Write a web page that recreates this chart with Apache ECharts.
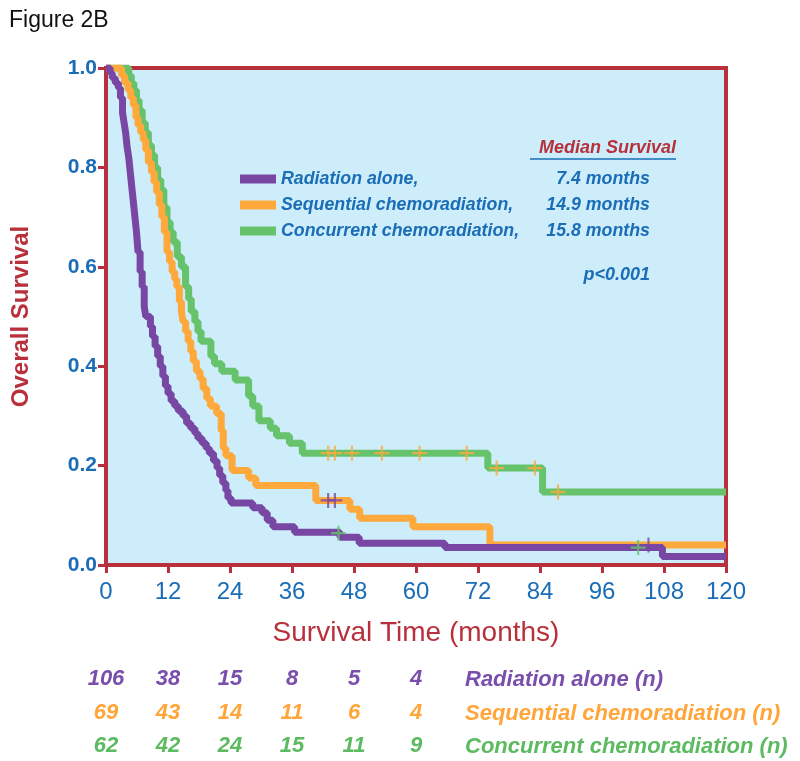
<!DOCTYPE html>
<html><head><meta charset="utf-8">
<script src="https://cdn.jsdelivr.net/npm/echarts@6/dist/echarts.min.js"></script>
<style>html,body{margin:0;padding:0;background:#fff}#c{width:800px;height:761px}</style>
</head><body><div id="c"></div>
<script>
// ---- data ----
const seriesNames = ['Radiation alone', 'Sequential chemoradiation', 'Concurrent chemoradiation'];
const medianLabels = ['7.4 months', '14.9 months', '15.8 months'];
const radiationAlone = [[0,1],[0.8,0.99],[1.2,0.98],[1.8,0.97],[2.4,0.96],[2.8,0.94],[3.2,0.91],[3.5,0.89],[3.8,0.87],[4.1,0.84],[4.4,0.82],[4.7,0.79],[5.0,0.76],[5.3,0.73],[5.6,0.70],[5.9,0.67],[6.2,0.63],[6.6,0.59],[7.0,0.56],[7.4,0.52],[7.7,0.50],[8.6,0.48],[9.0,0.46],[9.5,0.44],[10.0,0.42],[10.5,0.40],[11.0,0.38],[11.5,0.36],[12.0,0.345],[12.6,0.33],[13.3,0.32],[14.0,0.31],[14.9,0.30],[15.6,0.285],[16.4,0.275],[17.2,0.265],[17.8,0.255],[18.6,0.245],[19.4,0.235],[20.0,0.225],[20.8,0.21],[21.5,0.195],[22.0,0.18],[22.6,0.165],[23.2,0.15],[23.6,0.135],[24.2,0.125],[28.4,0.115],[30.2,0.105],[31.2,0.09],[32.3,0.077],[36.5,0.066],[45.3,0.056],[49,0.044],[65.6,0.035],[107.7,0.017],[120,0.017]];
const sequentialChemo = [[0,1],[3.0,0.985],[3.6,0.97],[4.3,0.955],[4.8,0.94],[5.3,0.925],[5.8,0.90],[6.2,0.885],[6.7,0.87],[7.2,0.855],[7.7,0.835],[8.2,0.81],[8.8,0.79],[9.3,0.77],[9.8,0.75],[10.3,0.725],[10.8,0.70],[11.3,0.67],[11.8,0.63],[12.3,0.61],[12.8,0.59],[13.3,0.575],[13.7,0.56],[14.2,0.53],[14.6,0.51],[14.9,0.49],[15.4,0.47],[15.9,0.45],[16.4,0.43],[16.9,0.41],[17.5,0.39],[18.2,0.375],[18.8,0.355],[19.5,0.335],[20.2,0.32],[21.4,0.305],[22.3,0.27],[22.7,0.235],[23.2,0.22],[24.4,0.19],[27.6,0.175],[29.0,0.16],[40.6,0.13],[47.2,0.112],[49.1,0.094],[59.4,0.077],[74.3,0.04],[120,0.04]];
const concurrentChemo = [[0,1],[4.4,0.985],[4.9,0.97],[5.4,0.955],[5.9,0.935],[6.4,0.915],[7.0,0.89],[7.6,0.87],[8.2,0.845],[8.8,0.825],[9.4,0.80],[10.0,0.775],[10.6,0.755],[11.2,0.72],[11.8,0.69],[12.4,0.67],[13.0,0.65],[13.8,0.62],[14.6,0.60],[15.4,0.56],[16.0,0.535],[16.5,0.51],[17.2,0.49],[17.8,0.47],[18.4,0.45],[20.3,0.42],[21.0,0.405],[22.4,0.39],[25.0,0.372],[27.6,0.34],[28.4,0.32],[29.6,0.29],[31.8,0.275],[33.0,0.26],[35.5,0.245],[38.0,0.225],[73.9,0.195],[84.5,0.147],[120,0.147]];
// censor marks (as drawn, coloured crosses)
const orangeCrosses = [[43,0.225],[44.3,0.225],[47.6,0.225],[53.4,0.225],[60.7,0.225],[69.8,0.225],[75.6,0.195],[83,0.195],[87.5,0.147]];
const purpleCrosses = [[43,0.13],[44.3,0.13],[105,0.04]];
const greenCrosses = [[45,0.064],[103,0.035]];
// numbers at risk at 0,12,24,36,48,60 months
const riskTimes = [0,12,24,36,48,60];
const riskRadiation = [106,38,15,8,5,4];
const riskSequential = [69,43,14,11,6,4];
const riskConcurrent = [62,42,24,15,11,9];
const riskLabels = ['Radiation alone (n)', 'Sequential chemoradiation (n)', 'Concurrent chemoradiation (n)'];
const xTicks = [0,12,24,36,48,60,72,84,96,108,120];
const yTicks = [0,0.2,0.4,0.6,0.8,1.0];

// ---- style ----
const C = {purple:'#7846a3', orange:'#ffa93d', green:'#66c36b', bg:'#ccedf9', red:'#b8303c', blue:'#1a6db6',
  rPurple:'#7a4fac', rOrange:'#ffa53a', rGreen:'#5cba60'};
const SANS = '"Liberation Sans",Arial,sans-serif';
const cross = 'path://M-1,-7L1,-7L1,-1L7,-1L7,1L1,1L1,7L-1,7L-1,1L-7,1L-7,-1L-1,-1Z';

const chart = echarts.init(document.getElementById('c'), null, {renderer:'canvas'});
const G = {left:106, top:68, width:620, height:497};

function riskAxis(vals, color, offset){
  const map = {}; riskTimes.forEach((t,i)=>map[t]=vals[i]);
  return {type:'value', gridIndex:0, position:'bottom', offset:offset, min:0, max:120, interval:12,
    axisLine:{show:false}, axisTick:{show:false}, splitLine:{show:false},
    axisLabel:{margin:0, color:color, fontFamily:SANS, fontStyle:'italic', fontWeight:'bold', fontSize:22,
      showMinLabel:true, showMaxLabel:true,
      formatter:v=> (map[v]!==undefined? String(map[v]) : '')}};
}

const option = {
  animation:false,
  backgroundColor:'#ffffff',
  grid:{...G, show:true, backgroundColor:C.bg, borderColor:C.red, borderWidth:4},
  xAxis:[{type:'value', min:0, max:120, interval:12,
      name:'Survival Time (months)', nameLocation:'middle', nameGap:54,
      nameTextStyle:{color:C.red, fontFamily:SANS, fontSize:28, fontWeight:'normal'},
      axisLine:{show:true, lineStyle:{color:C.red, width:4}},
      axisTick:{show:true, length:8, lineStyle:{color:C.red, width:3}},
      axisLabel:{margin:15, color:C.blue, fontFamily:SANS, fontSize:24, showMinLabel:true, showMaxLabel:true},
      splitLine:{show:false}},
    riskAxis(riskRadiation, C.rPurple, 103),
    riskAxis(riskSequential, C.rOrange, 137),
    riskAxis(riskConcurrent, C.rGreen, 170)
  ],
  yAxis:{type:'value', min:0, max:1, interval:0.2,
    name:'Overall Survival', nameLocation:'middle', nameGap:73, nameRotate:90,
    nameTextStyle:{color:C.red, fontFamily:SANS, fontSize:24, fontWeight:'bold'},
    axisLine:{show:true, lineStyle:{color:C.red, width:4}},
    axisTick:{show:true, length:8, lineStyle:{color:C.red, width:3}},
    axisLabel:{margin:9, color:C.blue, fontFamily:SANS, fontWeight:'bold', fontSize:21, formatter:v=>v.toFixed(1)},
    splitLine:{show:false}},
  legend:{show:true, left:235, top:165, orient:'vertical', itemGap:8, itemWidth:36, itemHeight:9, icon:'rect',
    selectedMode:false, data:seriesNames,
    formatter:name=>{const i=seriesNames.indexOf(name); return '{a|'+name+',}{b|'+medianLabels[i]+'}';},
    textStyle:{rich:{
      a:{width:252, height:18, color:C.blue, fontFamily:SANS, fontStyle:'italic', fontWeight:'bold', fontSize:17.8},
      b:{width:117, height:18, align:'right', color:C.blue, fontFamily:SANS, fontStyle:'italic', fontWeight:'bold', fontSize:17.8}}}},
  graphic:[
    {type:'text', left:9, top:9, style:{text:'Figure 2B', fill:'#111', font:'23px "Liberation Sans",Arial,sans-serif'}},
    {type:'text', right:124, top:139, style:{text:'Median Survival', fill:C.red, font:'italic bold 18px "Liberation Sans",Arial,sans-serif'}},
    {type:'line', shape:{x1:530, y1:159, x2:676, y2:159}, style:{stroke:C.blue, lineWidth:1.5}},
    {type:'text', right:150, top:266, style:{text:'p<0.001', fill:C.blue, font:'italic bold 18px "Liberation Sans",Arial,sans-serif'}},
    {type:'text', left:465, top:669, style:{text:riskLabels[0], fill:C.rPurple, font:'italic bold 22px '+SANS}},
    {type:'text', left:465, top:703, style:{text:riskLabels[1], fill:C.rOrange, font:'italic bold 22px '+SANS}},
    {type:'text', left:465, top:736, style:{text:riskLabels[2], fill:C.rGreen, font:'italic bold 22px '+SANS}}
  ],
  series:[
    {name:seriesNames[2], type:'line', step:'end', data:concurrentChemo, symbol:'none', color:C.green, lineStyle:{width:7, color:C.green}, z:2},
    {name:seriesNames[1], type:'line', step:'end', data:sequentialChemo, symbol:'none', color:C.orange, lineStyle:{width:7, color:C.orange}, z:3},
    {name:seriesNames[0], type:'line', step:'end', data:radiationAlone, symbol:'none', color:C.purple, lineStyle:{width:7, color:C.purple}, z:4},
    {name:'censor-o', type:'scatter', data:orangeCrosses, symbol:cross, symbolSize:15, itemStyle:{color:C.orange}, z:6},
    {name:'censor-p', type:'scatter', data:purpleCrosses, symbol:cross, symbolSize:15, itemStyle:{color:C.purple}, z:6},
    {name:'censor-g', type:'scatter', data:greenCrosses, symbol:cross, symbolSize:15, itemStyle:{color:C.green}, z:6}
  ]
};
chart.setOption(option);
</script></body></html>
